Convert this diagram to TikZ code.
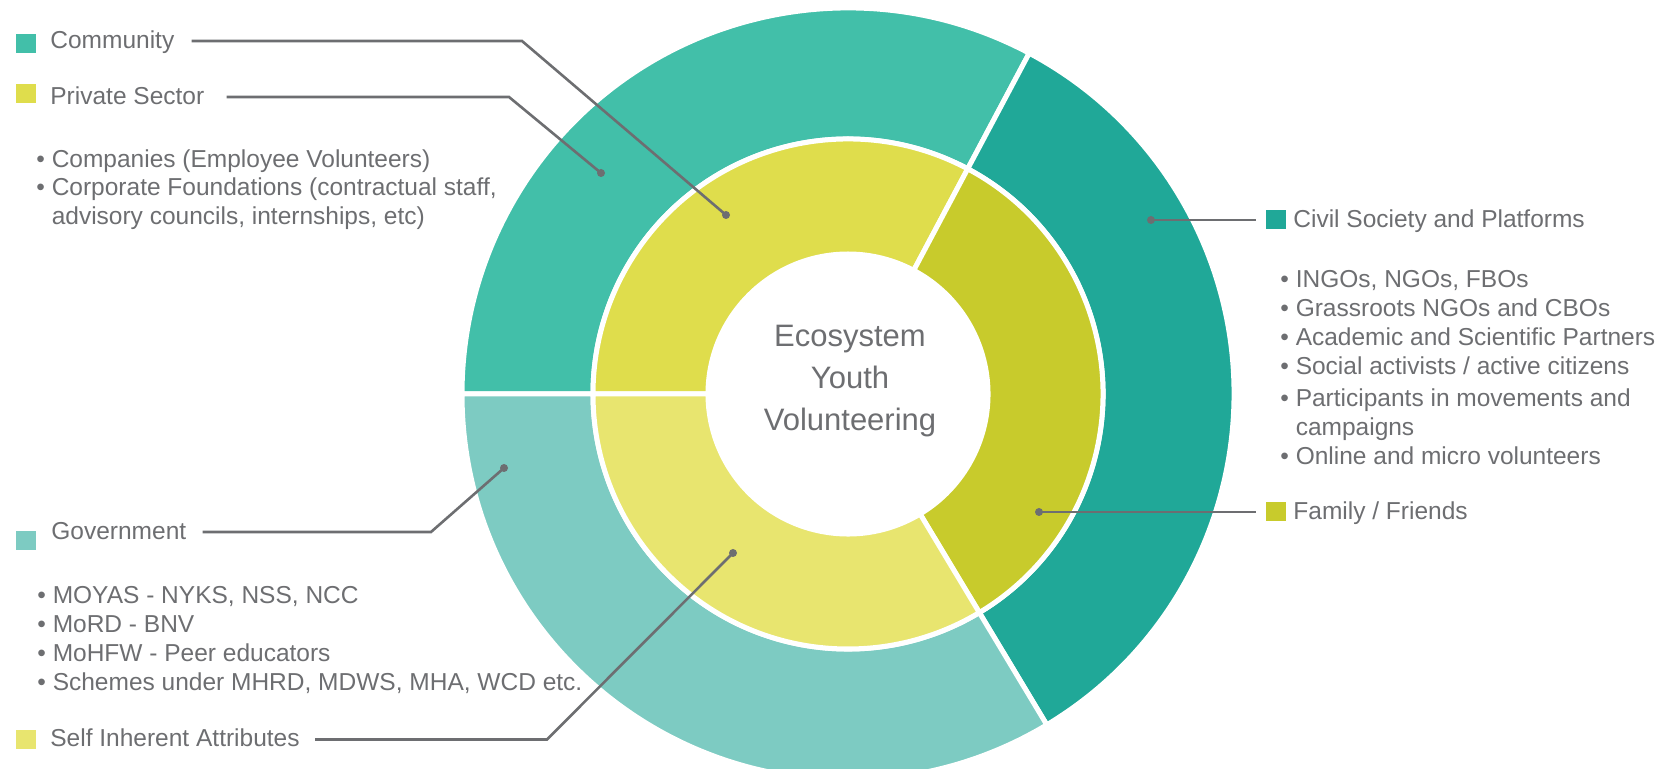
\documentclass[tikz,border=0pt]{standalone}
\usepackage{fontspec}
\setmainfont{Liberation Sans}

\definecolor{commgreen}{HTML}{42BFA9}
\definecolor{civgreen}{HTML}{20A898}
\definecolor{govgreen}{HTML}{7DCBC2}
\definecolor{privyellow}{HTML}{DFDD4C}
\definecolor{famolive}{HTML}{C8CB2C}
\definecolor{selfyellow}{HTML}{E8E56F}
\definecolor{inkgray}{HTML}{6D6E71}

\tikzset{
  swatch/.style={minimum width=10pt, minimum height=9.5pt, inner sep=0pt},
  legendtext/.style={anchor=west, inner sep=0pt, text=inkgray,
    font=\fontsize{12.25}{14.5}\selectfont, text height=0.72em, text depth=0pt},
  bullets/.style={anchor=north west, align=left, inner sep=0pt, text=inkgray},
  hub/.style={align=center, inner sep=0pt, text=inkgray,
    font=\fontsize{15.5}{21}\selectfont},
  lead/.style={draw=inkgray, line width=1.3pt},
  leaddot/.style={fill=inkgray},
  seg/.style={draw=white, line width=2.5pt}
}

% one piece of a ring: colour, start angle, end angle, inner r, outer r
\newcommand{\ringpart}[5]{%
  \filldraw[seg, fill=#1] (#2:#5) arc[start angle=#2, end angle=#3, radius=#5]
    -- (#3:#4) arc[start angle=#3, end angle=#2, radius=#4] -- cycle;}

\begin{document}
\begin{tikzpicture}[x=0.5pt, y=0.5pt]
  \useasboundingbox (0,0) rectangle (1662,-769);
  \clip (0,0) rectangle (1662,-769);

  % the two rings
  \begin{scope}[shift={(848,-394)}]
    \ringpart{commgreen}{62}{180}{255}{386}
    \ringpart{civgreen}{-59}{62}{255}{386}
    \ringpart{govgreen}{180}{301}{255}{386}
    \ringpart{privyellow}{62}{180}{140}{255}
    \ringpart{famolive}{-59}{62}{140}{255}
    \ringpart{selfyellow}{180}{301}{140}{255}
  \end{scope}

  \node[hub] (hub) at (850,-381) {Ecosystem\\Youth\\Volunteering};

  % left side
  \node[swatch, fill=commgreen] (sq-comm) at (26,-43.5) {};
  \node[legendtext] (comm) at (50,-41) {Community};
  \node[swatch, fill=privyellow] (sq-priv) at (26,-94) {};
  \node[legendtext] (priv) at (50,-97) {Private Sector};
  \node[bullets, font=\fontsize{12.25}{14.25}\selectfont] (priv-list) at (36,-149)
    {• Companies (Employee Volunteers)\\
     • Corporate Foundations (contractual staff,\\
     \hphantom{• }advisory councils, internships, etc)};

  \node[swatch, fill=govgreen] (sq-gov) at (26,-540.5) {};
  \node[legendtext] (gov) at (51,-532) {Government};
  \node[bullets, font=\fontsize{12.25}{14.5}\selectfont] (gov-list) at (37,-586)
    {• MOYAS - NYKS, NSS, NCC\\
     • MoRD - BNV\\
     • MoHFW - Peer educators\\
     • Schemes under MHRD, MDWS, MHA, WCD etc.};

  \node[swatch, fill=selfyellow] (sq-self) at (26,-740) {};
  \node[legendtext] (self) at (50,-739.5) {Self Inherent Attributes};

  % right side
  \node[swatch, fill=civgreen] (sq-civ) at (1276,-220) {};
  \node[legendtext] (civ) at (1293,-220) {Civil Society and Platforms};
  \node[bullets, font=\fontsize{12.25}{14.5}\selectfont] (civ-list) at (1280,-270)
    {• INGOs, NGOs, FBOs\\
     • Grassroots NGOs and CBOs\\
     • Academic and Scientific Partners\\
     • Social activists / active citizens\\[1.35pt]
     • Participants in movements and\\
     \hphantom{• }campaigns\\
     • Online and micro volunteers};

  \node[swatch, fill=famolive] (sq-fam) at (1276,-512) {};
  \node[legendtext] (fam) at (1293,-512) {Family / Friends};

  % connectors
  \coordinate (comm-b) at (522,-41);
  \coordinate (comm-d) at (726,-215);
  \coordinate (priv-b) at (509,-97);
  \coordinate (priv-d) at (601,-173);
  \coordinate (gov-b) at (431,-532);
  \coordinate (gov-d) at (504,-468);
  \coordinate (self-b) at (547,-739.5);
  \coordinate (self-d) at (733,-553);
  \coordinate (civ-d) at (1151,-220);
  \coordinate (fam-d) at (1039,-512);

  \draw[lead] ([xshift=8.5pt]comm.east) -- (comm.east -| comm-b) -- (comm-d);
  \draw[lead] ([xshift=11pt]priv.east) -- (priv.east -| priv-b) -- (priv-d);
  \draw[lead] ([xshift=8pt]gov.east) -- (gov.east -| gov-b) -- (gov-d);
  \draw[lead] ([xshift=7.5pt]self.east) -- (self.east -| self-b) -- (self-d);
  \draw[lead, shorten >=5pt] (civ-d) -- (civ-d -| sq-civ.west);
  \draw[lead, shorten >=5pt] (fam-d) -- (fam-d -| sq-fam.west);

  \foreach \d in {comm-d, priv-d, gov-d, self-d, civ-d, fam-d}
    \fill[leaddot] (\d) circle[radius=4];
\end{tikzpicture}
\end{document}
